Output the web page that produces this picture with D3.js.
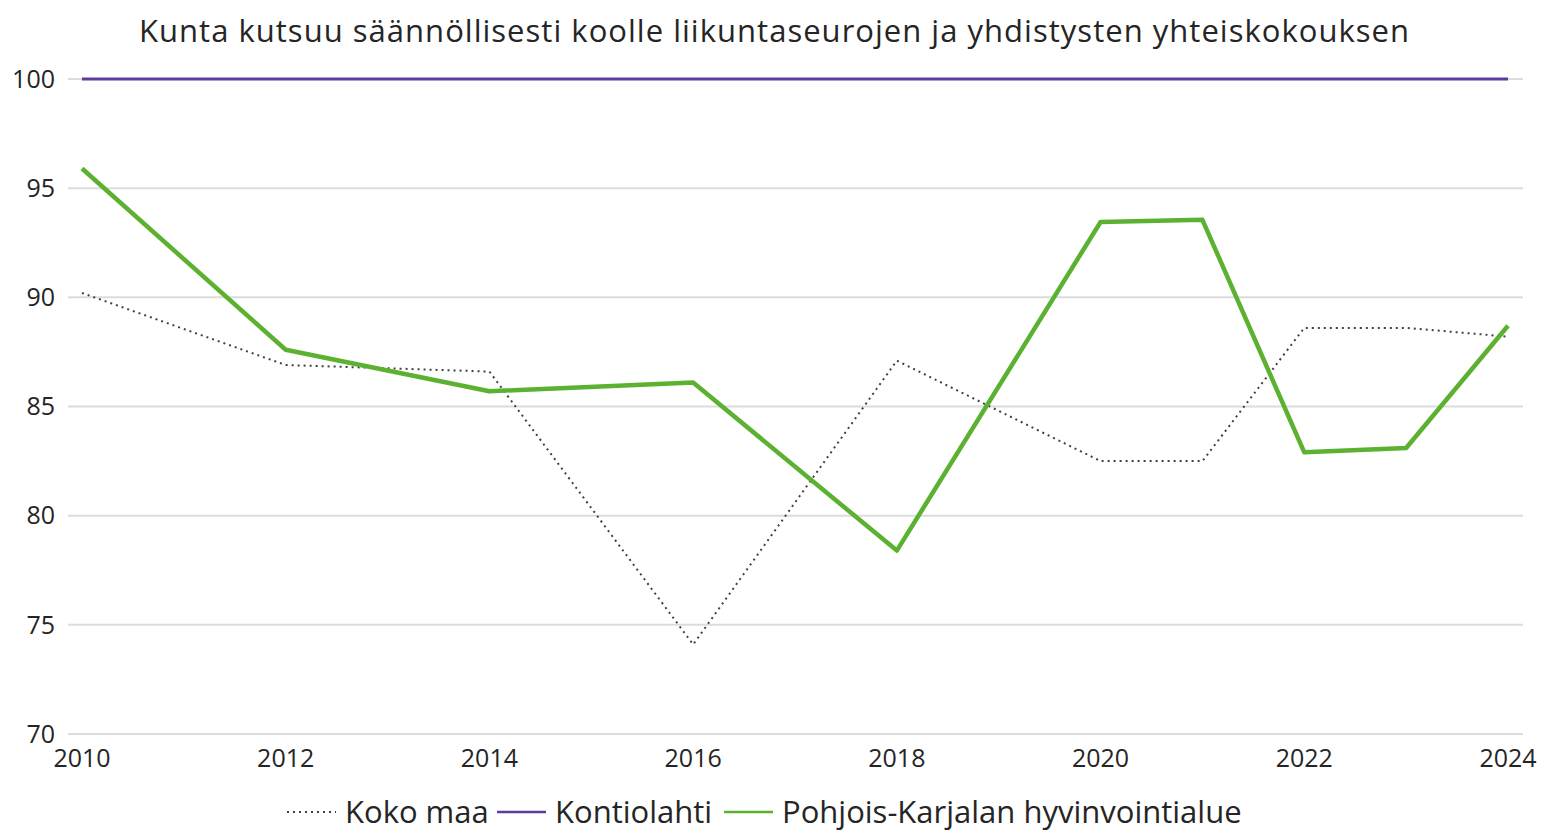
<!DOCTYPE html>
<html lang="fi">
  <head>
    <title>Kunta kutsuu säännöllisesti koolle liikuntaseurojen ja yhdistysten yhteiskokouksen</title>
    <meta charset="utf-8">
    <script src="https://d3js.org/d3.v7.min.js"></script>
    <style>
      body { margin: 0; background: #fff; }
      text { font-family: "Open Sans", "Noto Sans", sans-serif; fill: #252525; }
    </style>
  </head>
  <body>
    <svg></svg>
    <script>
      // Data
      const years = [2010, 2012, 2014, 2016, 2018, 2020, 2021, 2022, 2023, 2024]
      const kokoMaa = [90.2, 86.9, 86.6, 74.1, 87.1, 82.5, 82.5, 88.6, 88.6, 88.2]
      const kontiolahti = [100, 100, 100, 100, 100, 100, 100, 100, 100, 100]
      const pohjoisKarjala = [95.9, 87.6, 85.7, 86.1, 78.4, 93.45, 93.55, 82.9, 83.1, 88.7]
      const xTicks = [2010, 2012, 2014, 2016, 2018, 2020, 2022, 2024]
      const yTicks = [70, 75, 80, 85, 90, 95, 100]

      const series = [
        { name: 'Koko maa', values: kokoMaa, color: '#404040', width: 2, dash: '2,4' },
        { name: 'Kontiolahti', values: kontiolahti, color: '#5a3d9e', width: 3, dash: null },
        { name: 'Pohjois-Karjalan hyvinvointialue', values: pohjoisKarjala, color: '#5cb130', width: 4.5, dash: null }
      ]

      const W = 1542, H = 833
      const svg = d3.select('svg')
        .attr('width', W)
        .attr('height', H)

      const x = d3.scaleLinear().domain([2010, 2024]).range([82, 1508])
      const y = d3.scaleLinear().domain([70, 100]).range([734, 79])

      // otsikko
      svg.append('text')
        .attr('x', 774)
        .attr('y', 42)
        .attr('text-anchor', 'middle')
        .attr('textLength', 1270)
        .style('font-size', '31px')
        .text('Kunta kutsuu säännöllisesti koolle liikuntaseurojen ja yhdistysten yhteiskokouksen')

      // gridlines
      svg.append('g')
        .selectAll('line')
        .data(yTicks)
        .join('line')
          .attr('x1', 68)
          .attr('x2', 1523)
          .attr('y1', d => y(d))
          .attr('y2', d => y(d))
          .attr('stroke', '#dcdcdc')
          .attr('stroke-width', 2)

      // y-akseli
      svg.append('g')
        .selectAll('text')
        .data(yTicks)
        .join('text')
          .attr('x', 55)
          .attr('y', d => y(d))
          .attr('dy', '0.35em')
          .attr('text-anchor', 'end')
          .style('font-size', '25px')
          .text(d => d)

      // x-akseli
      svg.append('g')
        .selectAll('text')
        .data(xTicks)
        .join('text')
          .attr('x', d => x(d))
          .attr('y', 767)
          .attr('text-anchor', 'middle')
          .style('font-size', '25px')
          .text(d => d)

      const line = d3.line()
        .x((d, i) => x(years[i]))
        .y(d => y(d))

      svg.append('g')
        .selectAll('path')
        .data(series)
        .join('path')
          .attr('d', d => line(d.values))
          .attr('fill', 'none')
          .attr('stroke', d => d.color)
          .attr('stroke-width', d => d.width)
          .attr('stroke-dasharray', d => d.dash)
          .attr('stroke-linejoin', 'round')

      // legenda
      const legendPos = [287, 497, 724]
      const legend = svg.append('g')
        .selectAll('g')
        .data(series)
        .join('g')
          .attr('transform', (d, i) => `translate(${legendPos[i]}, 812)`)

      legend.append('line')
        .attr('x1', 0)
        .attr('x2', 49)
        .attr('stroke', d => d.color)
        .attr('stroke-width', d => Math.min(d.width, 2.5))
        .attr('stroke-dasharray', d => d.dash)

      legend.append('text')
        .attr('x', 58)
        .attr('dy', '0.35em')
        .style('font-size', '31px')
        .text(d => d.name)
    </script>
  </body>
</html>
